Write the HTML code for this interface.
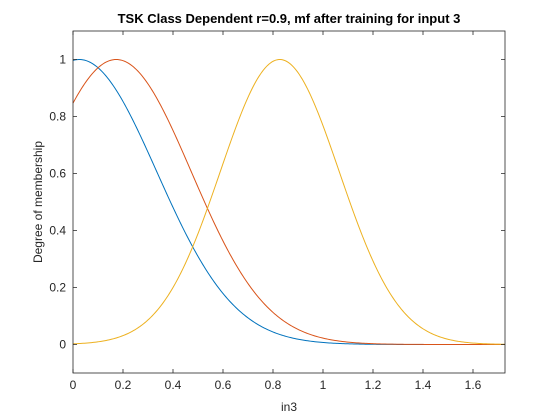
<!DOCTYPE html>
<html><head><meta charset="utf-8"><style>
body{margin:0;background:#fff;}
svg{display:block;font-family:"Liberation Sans",Arial,sans-serif;}
</style></head><body>
<svg id="chart" width="560" height="420">
<rect x="0" y="0" width="560" height="420" fill="#fff"/>
<rect x="73" y="31" width="432" height="342" fill="#fff" stroke="none"/>
<g id="series"></g>
<rect x="73" y="31" width="432" height="342" fill="none" stroke="#262626" stroke-width="0.8"/>
<g id="ticks"></g>
<text x="289" y="23" text-anchor="middle" font-size="13" font-weight="bold" fill="#000">TSK Class Dependent r=0.9, mf after training for input 3</text>
<text x="289" y="411" text-anchor="middle" font-size="12" fill="#262626">in3</text>
<text transform="translate(42,202) rotate(-90)" text-anchor="middle" font-size="12" fill="#262626">Degree of membership</text>
</svg>
<script>
const xTicks=[0,0.2,0.4,0.6,0.8,1,1.2,1.4,1.6];
const xTickLabels=["0","0.2","0.4","0.6","0.8","1","1.2","1.4","1.6"];
const yTicks=[0,0.2,0.4,0.6,0.8,1];
const yTickLabels=["0","0.2","0.4","0.6","0.8","1"];
const mfNames=["mf1","mf2","mf3"];
const mfCenters=[0.025,0.173,0.827];
const mfSigmas=[0.31,0.30,0.238];
const mfColors=["#0072BD","#D95319","#EDB120"];
const xMin=0,xMax=1.728,yMin=-0.1,yMax=1.1;
const L=73,R=505,T=31,B=373;
function sx(v){return L+(v-xMin)/(xMax-xMin)*(R-L);}
function sy(v){return B-(v-yMin)/(yMax-yMin)*(B-T);}
const NS="http://www.w3.org/2000/svg";
const tk=document.getElementById('ticks');
xTicks.forEach((v,i)=>{
 const x=sx(v);
 const l=document.createElementNS(NS,'path');
 l.setAttribute('d',`M${x},${B}v-4M${x},${T}v4`);
 l.setAttribute('stroke','#262626');l.setAttribute('stroke-width','0.8');
 
 
 tk.appendChild(l);
 const t=document.createElementNS(NS,'text');
 t.setAttribute('x',x);t.setAttribute('y',B+16);t.setAttribute('text-anchor','middle');
 t.setAttribute('font-size','12');t.setAttribute('fill','#262626');
 t.textContent=xTickLabels[i];
 
 
 tk.appendChild(t);
});
yTicks.forEach((v,i)=>{
 const y=sy(v);
 const l=document.createElementNS(NS,'path');
 l.setAttribute('d',`M${L},${y}h4M${R},${y}h-4`);
 l.setAttribute('stroke','#262626');l.setAttribute('stroke-width','0.8');
 
 
 tk.appendChild(l);
 const t=document.createElementNS(NS,'text');
 t.setAttribute('x',L-7);t.setAttribute('y',y+4);t.setAttribute('text-anchor','end');
 t.setAttribute('font-size','12');t.setAttribute('fill','#262626');
 t.textContent=yTickLabels[i];
 
 
 tk.appendChild(t);
});
const sg=document.getElementById('series');
mfCenters.forEach((c,i)=>{
 const s=mfSigmas[i];let d='';
 for(let k=0;k<=300;k++){
  const x=xMin+(xMax-xMin)*k/300;
  const y=Math.exp(-(x-c)*(x-c)/(2*s*s));
  d+=(k?'L':'M')+sx(x).toFixed(2)+','+sy(y).toFixed(2);
 }
 const p=document.createElementNS(NS,'path');
 p.setAttribute('d',d);p.setAttribute('fill','none');
 p.setAttribute('stroke',mfColors[i]);p.setAttribute('stroke-width','1');
 
 
 sg.appendChild(p);
});
</script>
</body></html>
